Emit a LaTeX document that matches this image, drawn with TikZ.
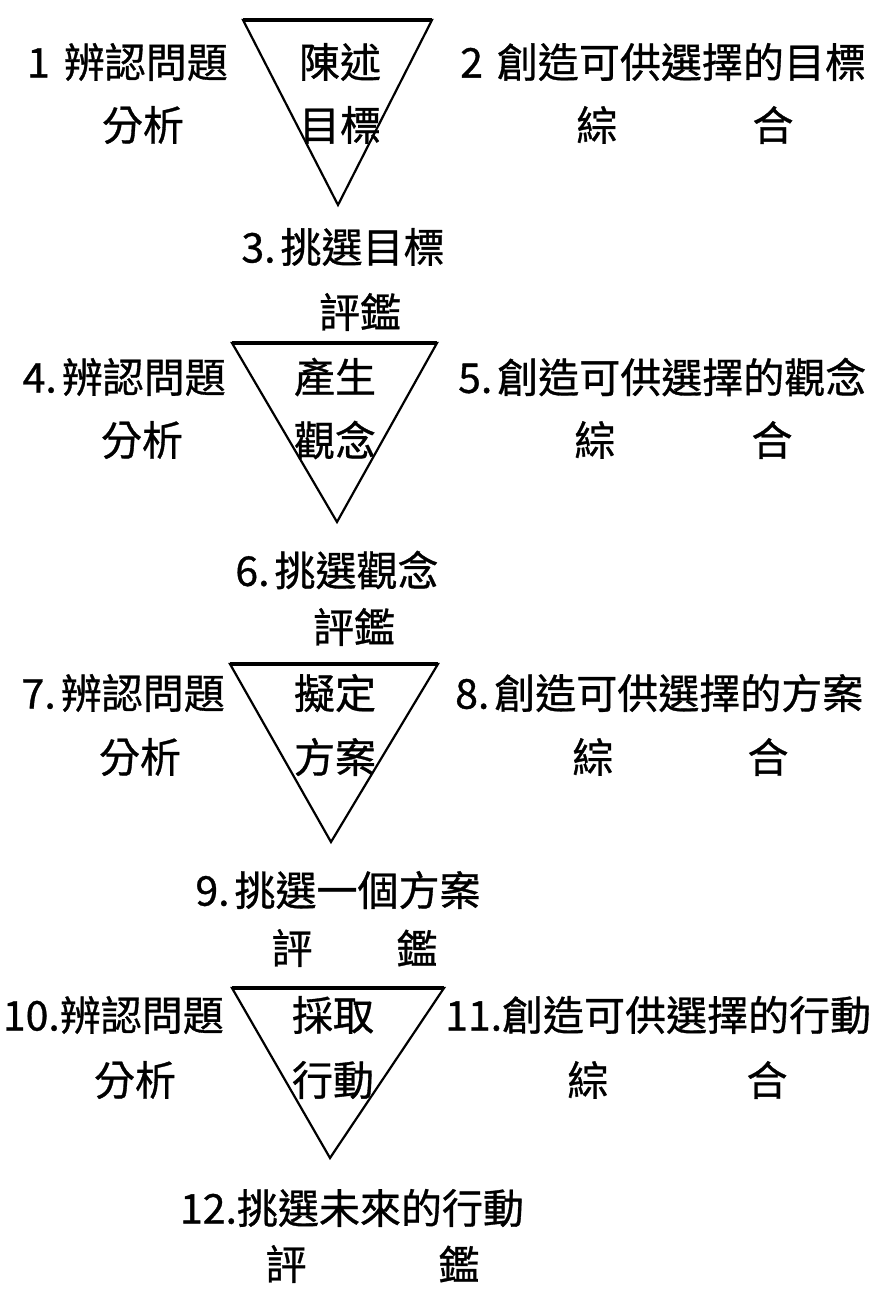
\documentclass[tikz,border=0pt]{standalone}
\usepackage{fontspec}
\setmainfont{Noto Sans CJK TC}[FakeBold=0.8]
\newcommand{\gp}{\kern5pt}
\newcommand{\wgp}{\kern14pt}
\begin{document}
\begin{tikzpicture}[x=1pt,y=-1pt,
  txt/.style={inner sep=0pt,font=\fontsize{41}{47}\selectfont},
  tri/.style={line width=2.2pt,line join=miter},
  topedge/.style={line width=3.5pt}]
\useasboundingbox (0,0) rectangle (881,1289);
% ---------- block 1
\coordinate (t1l) at (243,20); \coordinate (t1r) at (432,20); \coordinate (t1b) at (338,205);
\draw[tri] (t1l) -- (t1r) -- (t1b) -- cycle; \draw[topedge] (t1l) -- (t1r);
\node[txt,anchor=east] (L1) at (228,62) {1\wgp 辨認問題};
\node[txt] (A1) at (143,125) {分析};
\node[txt] (T1a) at (340,62) {陳述};
\node[txt] (T1b) at (340,125) {目標};
\node[txt,anchor=west] (R1) at (460,62) {2\wgp 創造可供選擇的目標};
\node[txt] (S1) at (597,125) {綜};
\node[txt] (H1) at (773,125) {合};
\node[txt] (B1) at (343,247) {3.\gp 挑選目標};
\node[txt] (E1) at (360,312) {評鑑};
% ---------- block 2
\coordinate (t2l) at (232,343); \coordinate (t2r) at (437,343); \coordinate (t2b) at (337,522);
\draw[tri] (t2l) -- (t2r) -- (t2b) -- cycle; \draw[topedge] (t2l) -- (t2r);
\node[txt,anchor=east] (L2) at (226,377) {4.\gp 辨認問題};
\node[txt] (A2) at (142,440) {分析};
\node[txt] (T2a) at (335,377) {產生};
\node[txt] (T2b) at (335,440) {觀念};
\node[txt,anchor=west] (R2) at (458,377) {5.\gp 創造可供選擇的觀念};
\node[txt] (S2) at (595,440) {綜};
\node[txt] (H2) at (772,440) {合};
\node[txt] (B2) at (337,570) {6.\gp 挑選觀念};
\node[txt] (E2) at (354,627) {評鑑};
% ---------- block 3
\coordinate (t3l) at (230,664); \coordinate (t3r) at (438,664); \coordinate (t3b) at (331,842);
\draw[tri] (t3l) -- (t3r) -- (t3b) -- cycle; \draw[topedge] (t3l) -- (t3r);
\node[txt,anchor=east] (L3) at (225,693) {7.\gp 辨認問題};
\node[txt] (A3) at (140,757) {分析};
\node[txt] (T3a) at (335,693) {擬定};
\node[txt] (T3b) at (335,757) {方案};
\node[txt,anchor=west] (R3) at (455,693) {8.\gp 創造可供選擇的方案};
\node[txt] (S3) at (593,757) {綜};
\node[txt] (H3) at (768,757) {合};
\node[txt] (B3) at (338,890) {9.\gp 挑選一個方案};
\node[txt] (E3a) at (292,948) {評};
\node[txt] (E3b) at (417,948) {鑑};
% ---------- block 4
\coordinate (t4l) at (232,988); \coordinate (t4r) at (444,988); \coordinate (t4b) at (330,1158);
\draw[tri] (t4l) -- (t4r) -- (t4b) -- cycle; \draw[topedge] (t4l) -- (t4r);
\node[txt,anchor=east] (L4) at (224,1015) {10.辨認問題};
\node[txt] (A4) at (135,1080) {分析};
\node[txt] (T4a) at (333,1015) {採取};
\node[txt] (T4b) at (333,1080) {行動};
\node[txt,anchor=west] (R4) at (445,1015) {11.創造可供選擇的行動};
\node[txt] (S4) at (588,1080) {綜};
\node[txt] (H4) at (767,1080) {合};
\node[txt] (B4) at (352,1208) {12.挑選未來的行動};
\node[txt] (E4a) at (286,1264) {評};
\node[txt] (E4b) at (459,1264) {鑑};
\end{tikzpicture}
\end{document}
